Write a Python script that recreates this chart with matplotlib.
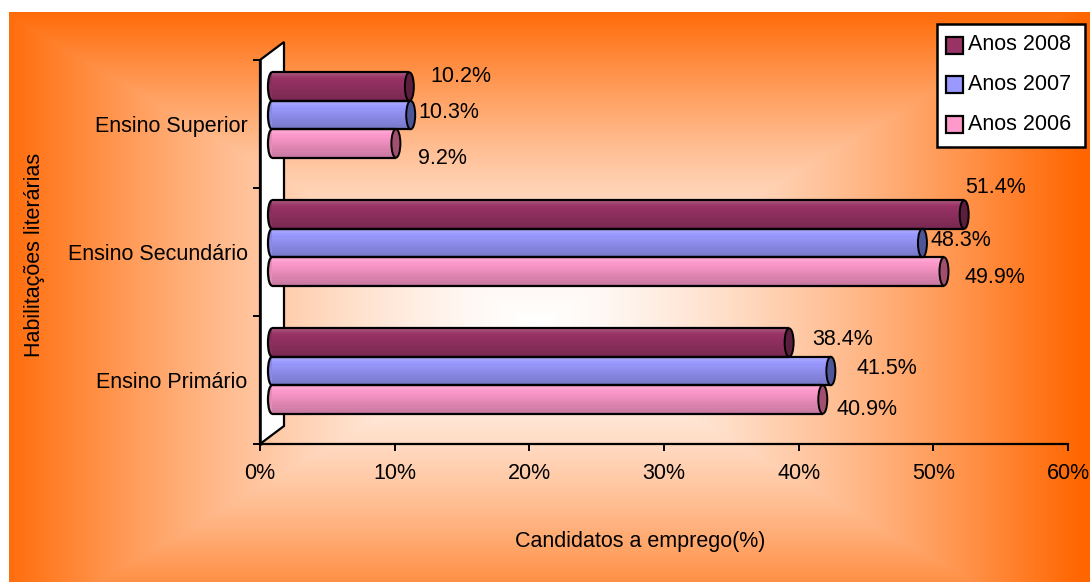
import numpy as np
import matplotlib
matplotlib.use("Agg")
import matplotlib.pyplot as plt
from matplotlib import font_manager
from matplotlib.patches import Ellipse, Polygon, Rectangle
from matplotlib.transforms import ScaledTranslation
from matplotlib.colors import to_rgb

# ---- data -------------------------------------------------------------
categories = ["Ensino Primário", "Ensino Secundário", "Ensino Superior"]
series_names = ["Anos 2008", "Anos 2007", "Anos 2006"]
values_2008 = [38.4, 51.4, 10.2]
values_2007 = [41.5, 48.3, 10.3]
values_2006 = [40.9, 49.9, 9.2]
x_ticks = [0, 10, 20, 30, 40, 50, 60]
x_label = "Candidatos a emprego(%)"
y_label = "Habilitações literárias"

series_values = [values_2008, values_2007, values_2006]
series_colors = ["#993366", "#9999FF", "#FF99CC"]
cap_colors = ["#5C1E3D", "#4E5596", "#A0506E"]

# value label offsets (pixels) relative to the end of each bar, per series / category
label_offsets = [
    [(23, 3), (1, 27), (21, 10)],
    [(26, 2), (8, 2), (8, 2)],
    [(14, -10), (21, -6), (22, -15)],
]

# ---- fonts ------------------------------------------------------------
available = {f.name for f in font_manager.fontManager.ttflist}
if "Liberation Sans Narrow" in available:
    FONT, FS = "Liberation Sans Narrow", 17.5
else:
    FONT, FS = "Liberation Sans", 15.5
plt.rcParams["font.family"] = [FONT, "DejaVu Sans"]

W, H, DPI = 1090, 582, 100
fig = plt.figure(figsize=(W / DPI, H / DPI), dpi=DPI)
fig.patch.set_facecolor("white")

# ---- chart-area background: rectangular white-to-orange gradient ------
bg = fig.add_axes([0, 0, 1, 1], zorder=-10)
yy, xx = np.mgrid[0:H, 0:W].astype(float)
cx, cy, hw, hh = 535.0, 325.0, 545.0, 320.0
t = np.maximum(np.abs(xx - cx) / hw, np.abs(yy - cy) / hh)
t = np.clip(t, 0, 1) ** 1.45
white = np.array([1.0, 1.0, 1.0])
orange = np.array([1.0, 0.40, 0.0])
img = white[None, None, :] * (1 - t[..., None]) + orange[None, None, :] * t[..., None]
inside = (xx >= 9) & (yy >= 12)
img[~inside] = 1.0
bg.imshow(img, extent=(0, W, H, 0), interpolation="bilinear", aspect="auto")
bg.set_xlim(0, W)
bg.set_ylim(H, 0)
bg.axis("off")

# ---- plot axes -------------------------------------------------------
x0, x1, ytop, ybot = 260, 1068, 60, 444
ax = fig.add_axes([x0 / W, (H - ybot) / H, (x1 - x0) / W, (ybot - ytop) / H])
ax.set_facecolor("none")
ax.set_xlim(0, 60)
ax.set_ylim(0, 3)

ppx = (x1 - x0) / 60.0     # pixels per percent
ppy = (ybot - ytop) / 3.0  # pixels per category

# back wall (depth offset 24 px right, 18 px up)
dX, dY = 24 / ppx, 18 / ppy
wall = Polygon([(0, 0), (0, 3), (dX, 3 + dY), (dX, dY)], closed=True,
               facecolor="white", edgecolor="black", linewidth=1.6,
               zorder=1, clip_on=False)
ax.add_patch(wall)

# bars sit at half depth
off = ScaledTranslation(12 / DPI, 9 / DPI, fig.dpi_scale_trans)
btrans = ax.transData + off

n_series = len(series_values)
bar_h = 1.0 / (n_series + 1.5)
n_strip = 14
shade = np.concatenate([np.linspace(1.06, 0.98, 4), np.linspace(0.97, 0.78, n_strip - 4)])
cap_w = 9 / ppx
left_w = 8 / ppx

for i, (vals, col, capc) in enumerate(zip(series_values, series_colors, cap_colors)):
    base = np.array(to_rgb(col))
    for j, v in enumerate(vals):
        yc = j + 0.5 + (1 - i) * bar_h
        ytop_bar = yc + bar_h / 2
        # rounded left end
        ax.add_patch(Ellipse((0, yc), left_w, bar_h, facecolor=base * 0.9,
                             edgecolor="black", linewidth=1.6, transform=btrans,
                             zorder=3, clip_on=False))
        # shaded body
        sh = bar_h / n_strip
        for k in range(n_strip):
            c = np.clip(base * shade[k] if shade[k] <= 1 else base + (1 - base) * (shade[k] - 1) * 3, 0, 1)
            ax.barh(ytop_bar - (k + 0.5) * sh, v, height=sh * 1.05, left=0,
                    color=c, linewidth=0, transform=btrans, zorder=4, clip_on=False)
        ax.hlines([yc - bar_h / 2, yc + bar_h / 2], 0, v, colors="black",
                  linewidth=1.6, transform=btrans, zorder=5, clip_on=False)
        # end cap
        ax.add_patch(Ellipse((v, yc), cap_w, bar_h, facecolor=capc,
                             edgecolor="black", linewidth=1.4, transform=btrans,
                             zorder=6, clip_on=False))
        dxp, dyp = label_offsets[i][j]
        ax.annotate(f"{v:.1f}%", xy=(v, yc), xycoords=btrans,
                    xytext=(dxp, dyp), textcoords="offset pixels",
                    ha="left", va="center", fontsize=FS, color="black",
                    zorder=7, annotation_clip=False)

# axes styling
for s in ("top", "right"):
    ax.spines[s].set_visible(False)
ax.spines["left"].set_linewidth(1.8)
ax.spines["bottom"].set_linewidth(1.6)
ax.spines["left"].set_zorder(2)

ax.set_xticks(x_ticks)
ax.set_xticklabels([f"{x}%" for x in x_ticks], fontsize=FS)
ax.tick_params(axis="x", length=5, width=1.4, pad=9, direction="out")

ax.set_yticks([0, 1, 2, 3])
ax.set_yticklabels([])
ax.tick_params(axis="y", which="major", length=5, width=1.4, direction="out")
ax.set_yticks([0.5, 1.5, 2.5], minor=True)
ax.set_yticklabels(categories, minor=True, fontsize=FS)
ax.tick_params(axis="y", which="minor", length=0, pad=9)

fig.text(35 / W, 1 - 255 / H, y_label, rotation=90, ha="center", va="center", fontsize=FS)
fig.text(640 / W, 1 - 541 / H, x_label, ha="center", va="center", fontsize=FS)

# ---- legend box -------------------------------------------------------
def fpt(x, y):
    return (x / W, 1 - y / H)

lx0, ly0, lx1, ly1 = 937, 24, 1085, 147
fig.patches.append(Rectangle(fpt(lx0, ly1), (lx1 - lx0) / W, (ly1 - ly0) / H,
                             transform=fig.transFigure, facecolor="white",
                             edgecolor="black", linewidth=1.8, zorder=10))
for k, (name, col) in enumerate(zip(series_names, series_colors)):
    yc = 45 + k * 39.5
    fig.patches.append(Rectangle(fpt(946, yc + 8.5), 17 / W, 17 / H,
                                 transform=fig.transFigure, facecolor=col,
                                 edgecolor="black", linewidth=1.6, zorder=11))
    fig.text(*fpt(968, yc), name, ha="left", va="center", fontsize=FS, zorder=12)

fig.savefig("out.png", dpi=DPI)
